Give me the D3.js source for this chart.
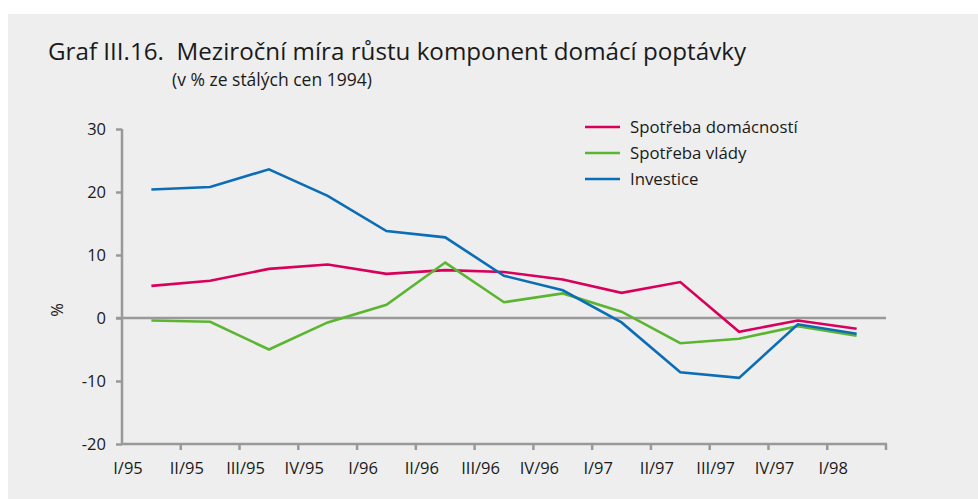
<!DOCTYPE html>
<html>
<head>
<meta charset="utf-8">
<script src="https://cdn.jsdelivr.net/npm/d3@7"></script>
<style>
  body { margin: 0; background: #fff; }
  svg text { font-family: "Open Sans", Lato, sans-serif; fill: #1a1a1a; }
</style>
</head>
<body>
<svg id="chart"></svg>
<script>
// Data
var quarters = ["I/95", "II/95", "III/95", "IV/95", "I/96", "II/96", "III/96",
                "IV/96", "I/97", "II/97", "III/97", "IV/97", "I/98"];
var households = [5.1, 5.9, 7.8, 8.5, 7.0, 7.6, 7.3, 6.1, 4.0, 5.7, -2.2, -0.4, -1.7];
var government = [-0.4, -0.6, -5.0, -0.7, 2.1, 8.8, 2.5, 3.9, 1.0, -4.0, -3.3, -1.3, -2.8];
var investment = [20.4, 20.8, 23.6, 19.4, 13.8, 12.8, 6.7, 4.4, -0.7, -8.6, -9.5, -1.0, -2.5];
var yTicks = [-20, -10, 0, 10, 20, 30];

var series = [
    { name: "Spotřeba domácností", values: households, color: "#d9005b" },
    { name: "Spotřeba vlády",      values: government, color: "#5cb531" },
    { name: "Investice",           values: investment, color: "#0b6db5" }
];

var W = 978, H = 499;
var svg = d3.select("#chart").attr("width", W).attr("height", H);

// grey panel
svg.append("rect").attr("x", 8).attr("y", 14).attr("width", W - 8).attr("height", H - 14)
    .attr("fill", "#eeeeee");

var x = d3.scaleBand().domain(quarters).range([122, 886]);
var y = d3.scaleLinear().domain([-20, 30]).range([444, 129]);
var axisCol = "#999999";

// title
svg.append("text").attr("x", 48).attr("y", 60).style("font-size", "24.2px")
    .text("Graf III.16.\u00a0 Meziroční míra růstu komponent domácí poptávky");
svg.append("text").attr("x", 172).attr("y", 86).style("font-size", "17.5px")
    .text("(v % ze stálých cen 1994)");

// y axis (plain hyphen for negatives, as in the original)
var yAxis = svg.append("g").attr("transform", "translate(122,0)")
    .call(d3.axisLeft(y).tickValues(yTicks).tickSize(6).tickPadding(10)
        .tickFormat(function (d) { return String(d); }));
yAxis.select(".domain").attr("stroke", axisCol).attr("stroke-width", 2.5)
    .attr("d", "M0," + y(30) + "V" + y(-20));
yAxis.selectAll(".tick line").attr("stroke", axisCol).attr("stroke-width", 2.5);
yAxis.selectAll(".tick text").style("font-size", "16.5px").attr("fill", "#1a1a1a");

svg.append("text").attr("transform", "translate(63,310) rotate(-90)")
    .attr("text-anchor", "middle").style("font-size", "16.5px").text("%");

// x axis along the bottom, ticks on band boundaries
var xg = svg.append("g").attr("transform", "translate(0," + y(-20) + ")");
xg.append("line").attr("x1", 122).attr("x2", 887).attr("stroke", axisCol).attr("stroke-width", 2.5);
quarters.forEach(function (q, i) {
    var bx = x(q) + x.bandwidth();
    xg.append("line").attr("x1", bx).attr("x2", bx).attr("y1", 0).attr("y2", 6)
        .attr("stroke", axisCol).attr("stroke-width", 2.5);
    xg.append("text").attr("x", x(q) + 6).attr("y", 30).attr("text-anchor", "middle")
        .style("font-size", "16.5px").text(q);
});

// zero line
svg.append("line").attr("x1", 116).attr("x2", 886).attr("y1", y(0)).attr("y2", y(0))
    .attr("stroke", axisCol).attr("stroke-width", 2.5);

// lines
var line = d3.line()
    .x(function (d, i) { return x(quarters[i]) + x.bandwidth() / 2; })
    .y(function (d) { return y(d); });

series.forEach(function (s) {
    svg.append("path").datum(s.values).attr("d", line)
        .attr("fill", "none").attr("stroke", s.color).attr("stroke-width", 2.6);
});

// legend
var lg = svg.append("g");
series.forEach(function (s, i) {
    var ly = 127 + i * 26;
    lg.append("line").attr("x1", 585).attr("x2", 620).attr("y1", ly).attr("y2", ly)
        .attr("stroke", s.color).attr("stroke-width", 2.6);
    lg.append("text").attr("x", 630).attr("y", ly + 6).style("font-size", "16.8px").text(s.name);
});
</script>
</body>
</html>
